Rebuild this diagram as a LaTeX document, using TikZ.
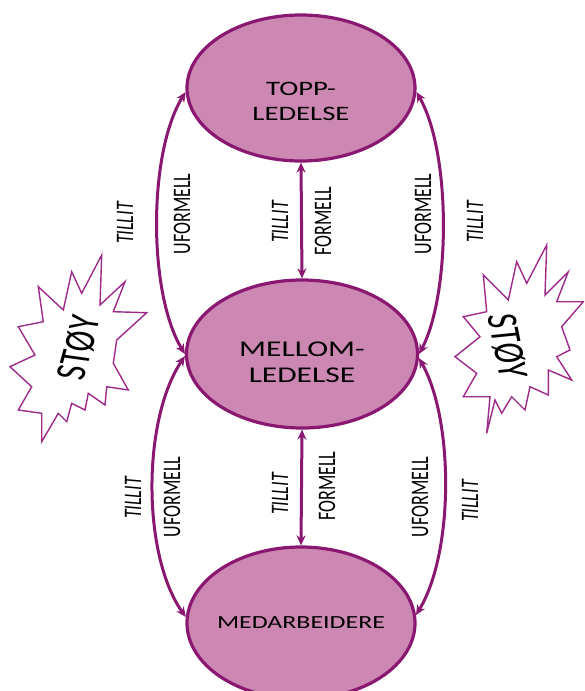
\documentclass[tikz,border=0pt]{standalone}
\usepackage{fontspec}
\setmainfont{Carlito}
\usepackage{graphicx}
\usetikzlibrary{shapes.geometric,arrows.meta}
\definecolor{plum}{RGB}{138,24,112}
\definecolor{orchidfill}{RGB}{204,136,178}
\definecolor{burstline}{RGB}{158,42,138}
% horizontally widened text, plain and rotated
\newcommand\hstretch[1]{\scalebox{1.4}[1]{#1}}
\newcommand\vstretch[2]{\scalebox{1.4}[1]{\rotatebox{#1}{#2}}}

\begin{document}
\begin{tikzpicture}[x=1pt,y=-1pt,
  level/.style={ellipse, draw=plum, line width=3.2pt, fill=orchidfill, inner sep=0pt},
  leveltext/.style={align=center, inner sep=0pt, text=black},
  link/.style={draw=plum, line width=3pt,
    {Stealth[length=10pt,width=9pt]}-{Stealth[length=10pt,width=9pt]}},
  lab/.style={inner sep=0pt, font=\fontsize{18}{20}\selectfont},
  burst/.style={draw=burstline, line width=1.4pt, fill=white, line join=miter},
  noise/.style={inner sep=0pt, font=\fontsize{31}{33}\selectfont}
]
\useasboundingbox (0,0) rectangle (584,691);
\clip (0,0) rectangle (584,691);
\fill[white] (0,0) rectangle (584,691);

% noise bursts
\draw[burst] (101.7,255) -- (81.7,293.3) -- (71.7,271.7) -- (63.3,310) -- (38.3,286.7)
  -- (43.3,321.7) -- (18.3,326.7) -- (35,355) -- (10,366.7) -- (31.7,386.7)
  -- (18.3,410) -- (41.7,413.3) -- (41.7,441.7) -- (58.3,413.3) -- (66.7,421.7)
  -- (71.7,403.3) -- (85,410) -- (88.3,393.3) -- (105,405) -- (106.7,386.7)
  -- (128.3,390) -- (113.3,363.3) -- (116.7,340) -- (146.7,312.7) -- (113.3,311.7)
  -- (125,281.7) -- (100,305) -- cycle;
\node[noise] (noiseL) at (79,348) {\vstretch{79}{STØY}};

\draw[burst] (546.7,245) -- (545,295) -- (568.3,271.7) -- (556.7,301.7) -- (583.3,301.7)
  -- (561.7,326.7) -- (570,350) -- (556.7,356.7) -- (571.7,380) -- (548.3,370)
  -- (548.3,395) -- (530,386.7) -- (525,410) -- (511.7,396.7) -- (501.7,413.3)
  -- (495,400) -- (486.7,433.3) -- (490,396.7) -- (463.3,396.7) -- (476.7,373.3)
  -- (455,356.7) -- (480,336.7) -- (463.3,316.7) -- (486.7,311.7) -- (483.3,275)
  -- (508.3,300) -- (516.7,261.7) -- (526.7,283.3) -- cycle;
\node[noise] (noiseR) at (507,346) {\vstretch{-82}{STØY}};

% levels
\node[level, minimum width=228pt, minimum height=146pt] (top) at (301,88) {};
\node[level, minimum width=231pt, minimum height=148pt] (mid) at (302,354) {};
\node[level, minimum width=228pt, minimum height=152pt] (bot) at (301,623) {};

\node[leveltext, font=\fontsize{20.5}{25}\selectfont] (topT) at (301,101)
  {\hstretch{TOPP-}\\\hstretch{LEDELSE}};
\node[leveltext, font=\fontsize{22.5}{26}\selectfont] (midT) at (302,362)
  {\hstretch{MELLOM-}\\\hstretch{LEDELSE}};
\node[leveltext, font=\fontsize{18.5}{22}\selectfont] (botT) at (301,623)
  {\hstretch{MEDARBEIDERE}};

% formal links
\draw[link] (top.south) -- (mid.north);
\draw[link] (mid.south) -- (bot.north);

% informal links
\draw[link] (top.182) .. controls (148,153) and (148,293) .. (mid.west);
\draw[link] (top.358) .. controls (451,152) and (451,293) .. (mid.east);
\draw[link] (mid.181) .. controls (142,420) and (142,555) .. (bot.177);
\draw[link] (mid.358) .. controls (454,420) and (454,553) .. (bot.4);

% link labels
\node[lab] (tUL) at (125,223) {\vstretch{90}{\itshape TILLIT}};
\node[lab] (uUL) at (182,214) {\vstretch{90}{UFORMELL}};
\node[lab] (tCU) at (280,222) {\vstretch{90}{\itshape TILLIT}};
\node[lab] (fCU) at (323,221) {\vstretch{90}{FORMELL}};
\node[lab] (uUR) at (423,214) {\vstretch{90}{UFORMELL}};
\node[lab] (tUR) at (475,222) {\vstretch{90}{\itshape TILLIT}};

\node[lab] (tLL) at (133,498) {\vstretch{90}{\itshape TILLIT}};
\node[lab] (uLL) at (172,497) {\vstretch{90}{UFORMELL}};
\node[lab] (tCL) at (280,494) {\vstretch{90}{\itshape TILLIT}};
\node[lab] (fCL) at (327,486) {\vstretch{90}{FORMELL}};
\node[lab] (uLR) at (420,497) {\vstretch{90}{UFORMELL}};
\node[lab] (tLR) at (470,501) {\vstretch{90}{\itshape TILLIT}};
\end{tikzpicture}
\end{document}
